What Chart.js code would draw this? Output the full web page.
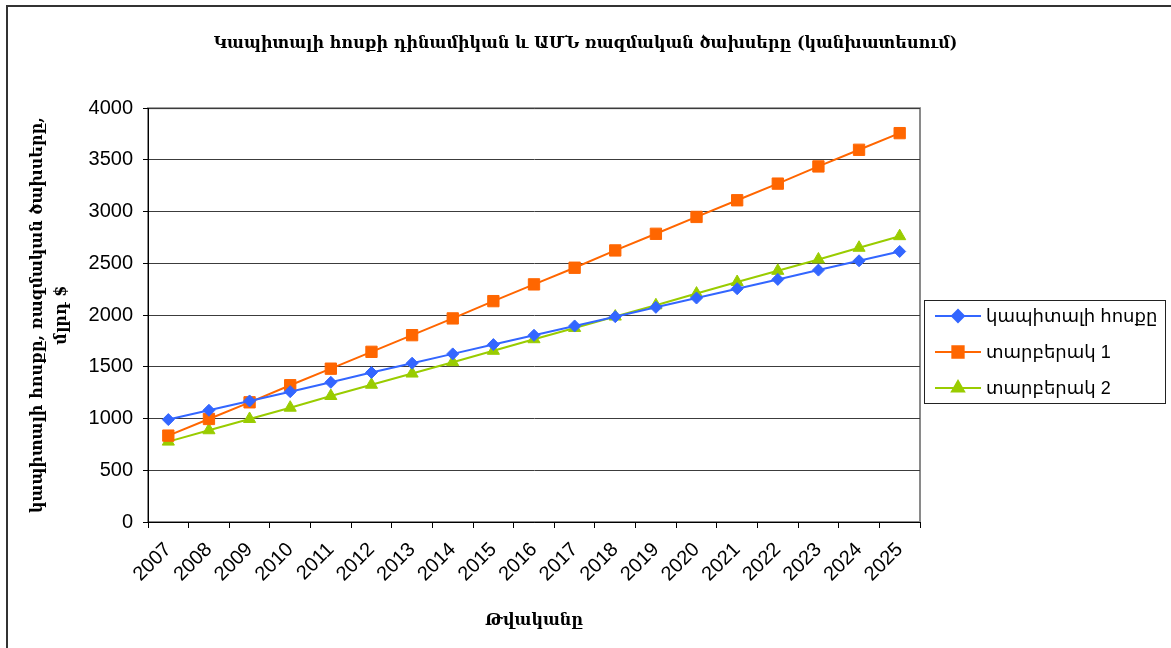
<!DOCTYPE html>
<html><head><meta charset="utf-8">
<script src="https://cdn.jsdelivr.net/npm/chart.js@4/dist/chart.umd.min.js"></script>
<style>
html,body{margin:0;padding:0;background:#fff;overflow:hidden;}
#wrap{position:relative;width:1171px;height:648px;overflow:hidden;}
#frame{position:absolute;left:6px;top:5px;width:1200px;height:700px;border-left:2px solid #333;border-top:2px solid #333;pointer-events:none;}
canvas{position:absolute;left:0;top:0;}
</style></head><body>
<div id="wrap"><canvas id="c" width="1171" height="648"></canvas><div id="frame"></div></div>
<script>
const years = ['2007','2008','2009','2010','2011','2012','2013','2014','2015','2016','2017','2018','2019','2020','2021','2022','2023','2024','2025'];
const capitalFlow = [990,1080,1170,1260,1350,1445,1535,1625,1715,1805,1895,1985,2075,2165,2255,2345,2435,2525,2615];
const variant1 = [835,996,1157,1322,1482,1645,1806,1968,2135,2297,2458,2625,2786,2949,3110,3271,3437,3598,3759];
const variant2 = [777,887,996,1105,1218,1327,1435,1545,1655,1767,1876,1986,2095,2208,2320,2428,2538,2651,2763];
const yTicks = [0,500,1000,1500,2000,2500,3000,3500,4000];
const seriesNames = ['կապիտալի հոսքը','տարբերակ 1','տարբերակ 2'];
const chartTitle = 'Կապիտալի հոսքի դինամիկան և ԱՄՆ ռազմական ծախսերը (կանխատեսում)';
const yTitle = ['կապիտալի հոսքը, ռազմական ծախսերը,','մլրդ $'];
const xTitle = 'Թվականը';

const SANS = '"Liberation Sans", "DejaVu Sans", Arial, sans-serif';
const SERIF = '"DejaVu Serif", "Liberation Serif", serif';

const plotBorder = {
  id:'plotBorder',
  beforeDraw(chart){
    const {ctx, chartArea:a} = chart;
    ctx.save();
    ctx.strokeStyle = '#8a8a8a';
    ctx.lineWidth = 2;
    ctx.strokeRect(a.left, a.top, a.right - a.left, a.bottom - a.top);
    ctx.restore();
  }
};

const boxLegend = {
  id:'boxLegend',
  afterDraw(chart){
    const ctx = chart.ctx;
    const bx = 924.5, by = 300.5, bw = 241, bh = 103;
    ctx.save();
    ctx.strokeStyle = '#222';
    ctx.lineWidth = 1;
    ctx.strokeRect(bx, by, bw, bh);
    chart.data.datasets.forEach((ds, i) => {
      const y = 316 + i * 36;
      ctx.strokeStyle = ds.borderColor;
      ctx.lineWidth = 2;
      ctx.beginPath();
      ctx.moveTo(935, y); ctx.lineTo(981, y);
      ctx.stroke();
      ctx.fillStyle = ds.pointBackgroundColor;
      ctx.strokeStyle = ds.pointBorderColor;
      Chart.helpers.drawPoint(ctx, {pointStyle: ds.pointStyle, radius: ds.pointRadius, rotation: 0, borderWidth: 1}, 958, y);
      ctx.fillStyle = '#000';
      ctx.font = '18px ' + SANS;
      ctx.textBaseline = 'middle';
      ctx.textAlign = 'left';
      ctx.fillText(ds.label, 986, y + 1);
    });
    ctx.restore();
  }
};

function mk(label, data, color, style, r){
  return {label, data, borderColor:color, backgroundColor:color, pointBackgroundColor:color, pointBorderColor:color,
    pointStyle:style, pointRadius:r, pointHoverRadius:r, pointBorderWidth:1, borderWidth:2, tension:0, fill:false};
}

new Chart(document.getElementById('c'), {
  type:'line',
  data:{
    labels: years,
    datasets:[
      mk(seriesNames[0], capitalFlow, '#3366ff', 'rectRot', 6),
      mk(seriesNames[1], variant1, '#ff6600', 'rect', 8),
      mk(seriesNames[2], variant2, '#99cc00', 'triangle', 7)
    ]
  },
  options:{
    responsive:false, animation:false, devicePixelRatio:1,
    layout:{padding:{left:0, right:0, top:0, bottom:0}},
    plugins:{
      legend:{display:false},
      tooltip:{enabled:false},
      title:{display:true, text:chartTitle, color:'#000', font:{family:SERIF, size:16, weight:'bold', lineHeight:1.2}, padding:{top:34, bottom:55}}
    },
    scales:{
      x:{
        type:'category', offset:true,
        grid:{offset:true, drawOnChartArea:false, drawTicks:true, tickLength:6, tickColor:'#000'},
        border:{color:'#000', width:1},
        ticks:{color:'#000', font:{family:SANS, size:20}, minRotation:45, maxRotation:45, autoSkip:false, padding:10},
        title:{display:true, text:xTitle, color:'#000', font:{family:SERIF, size:16, weight:'bold', lineHeight:1.2}, padding:{top:0, bottom:18}},
        afterFit(s){ s.height = 126; }
      },
      y:{
        min:0, max:4000,
        afterBuildTicks(s){ s.ticks = yTicks.map(v => ({value:v})); },
        grid:{color:'#3c3c3c', lineWidth:1, tickLength:5, tickColor:'#000'},
        border:{color:'#000', width:1},
        ticks:{color:'#000', font:{family:SANS, size:20}, padding:10, callback:(v) => String(v)},
        title:{display:true, text:yTitle, color:'#000', font:{family:SERIF, size:16, weight:'bold', lineHeight:1.5}, padding:{top:26, bottom:0}},
        afterFit(s){ s.width = 148; }
      },
      side:{
        type:'linear', position:'right', display:true,
        grid:{display:false, drawOnChartArea:false},
        border:{display:false},
        ticks:{display:false},
        afterFit(s){ s.width = 251; }
      }
    }
  },
  plugins:[plotBorder, boxLegend]
});
</script>
</body></html>
